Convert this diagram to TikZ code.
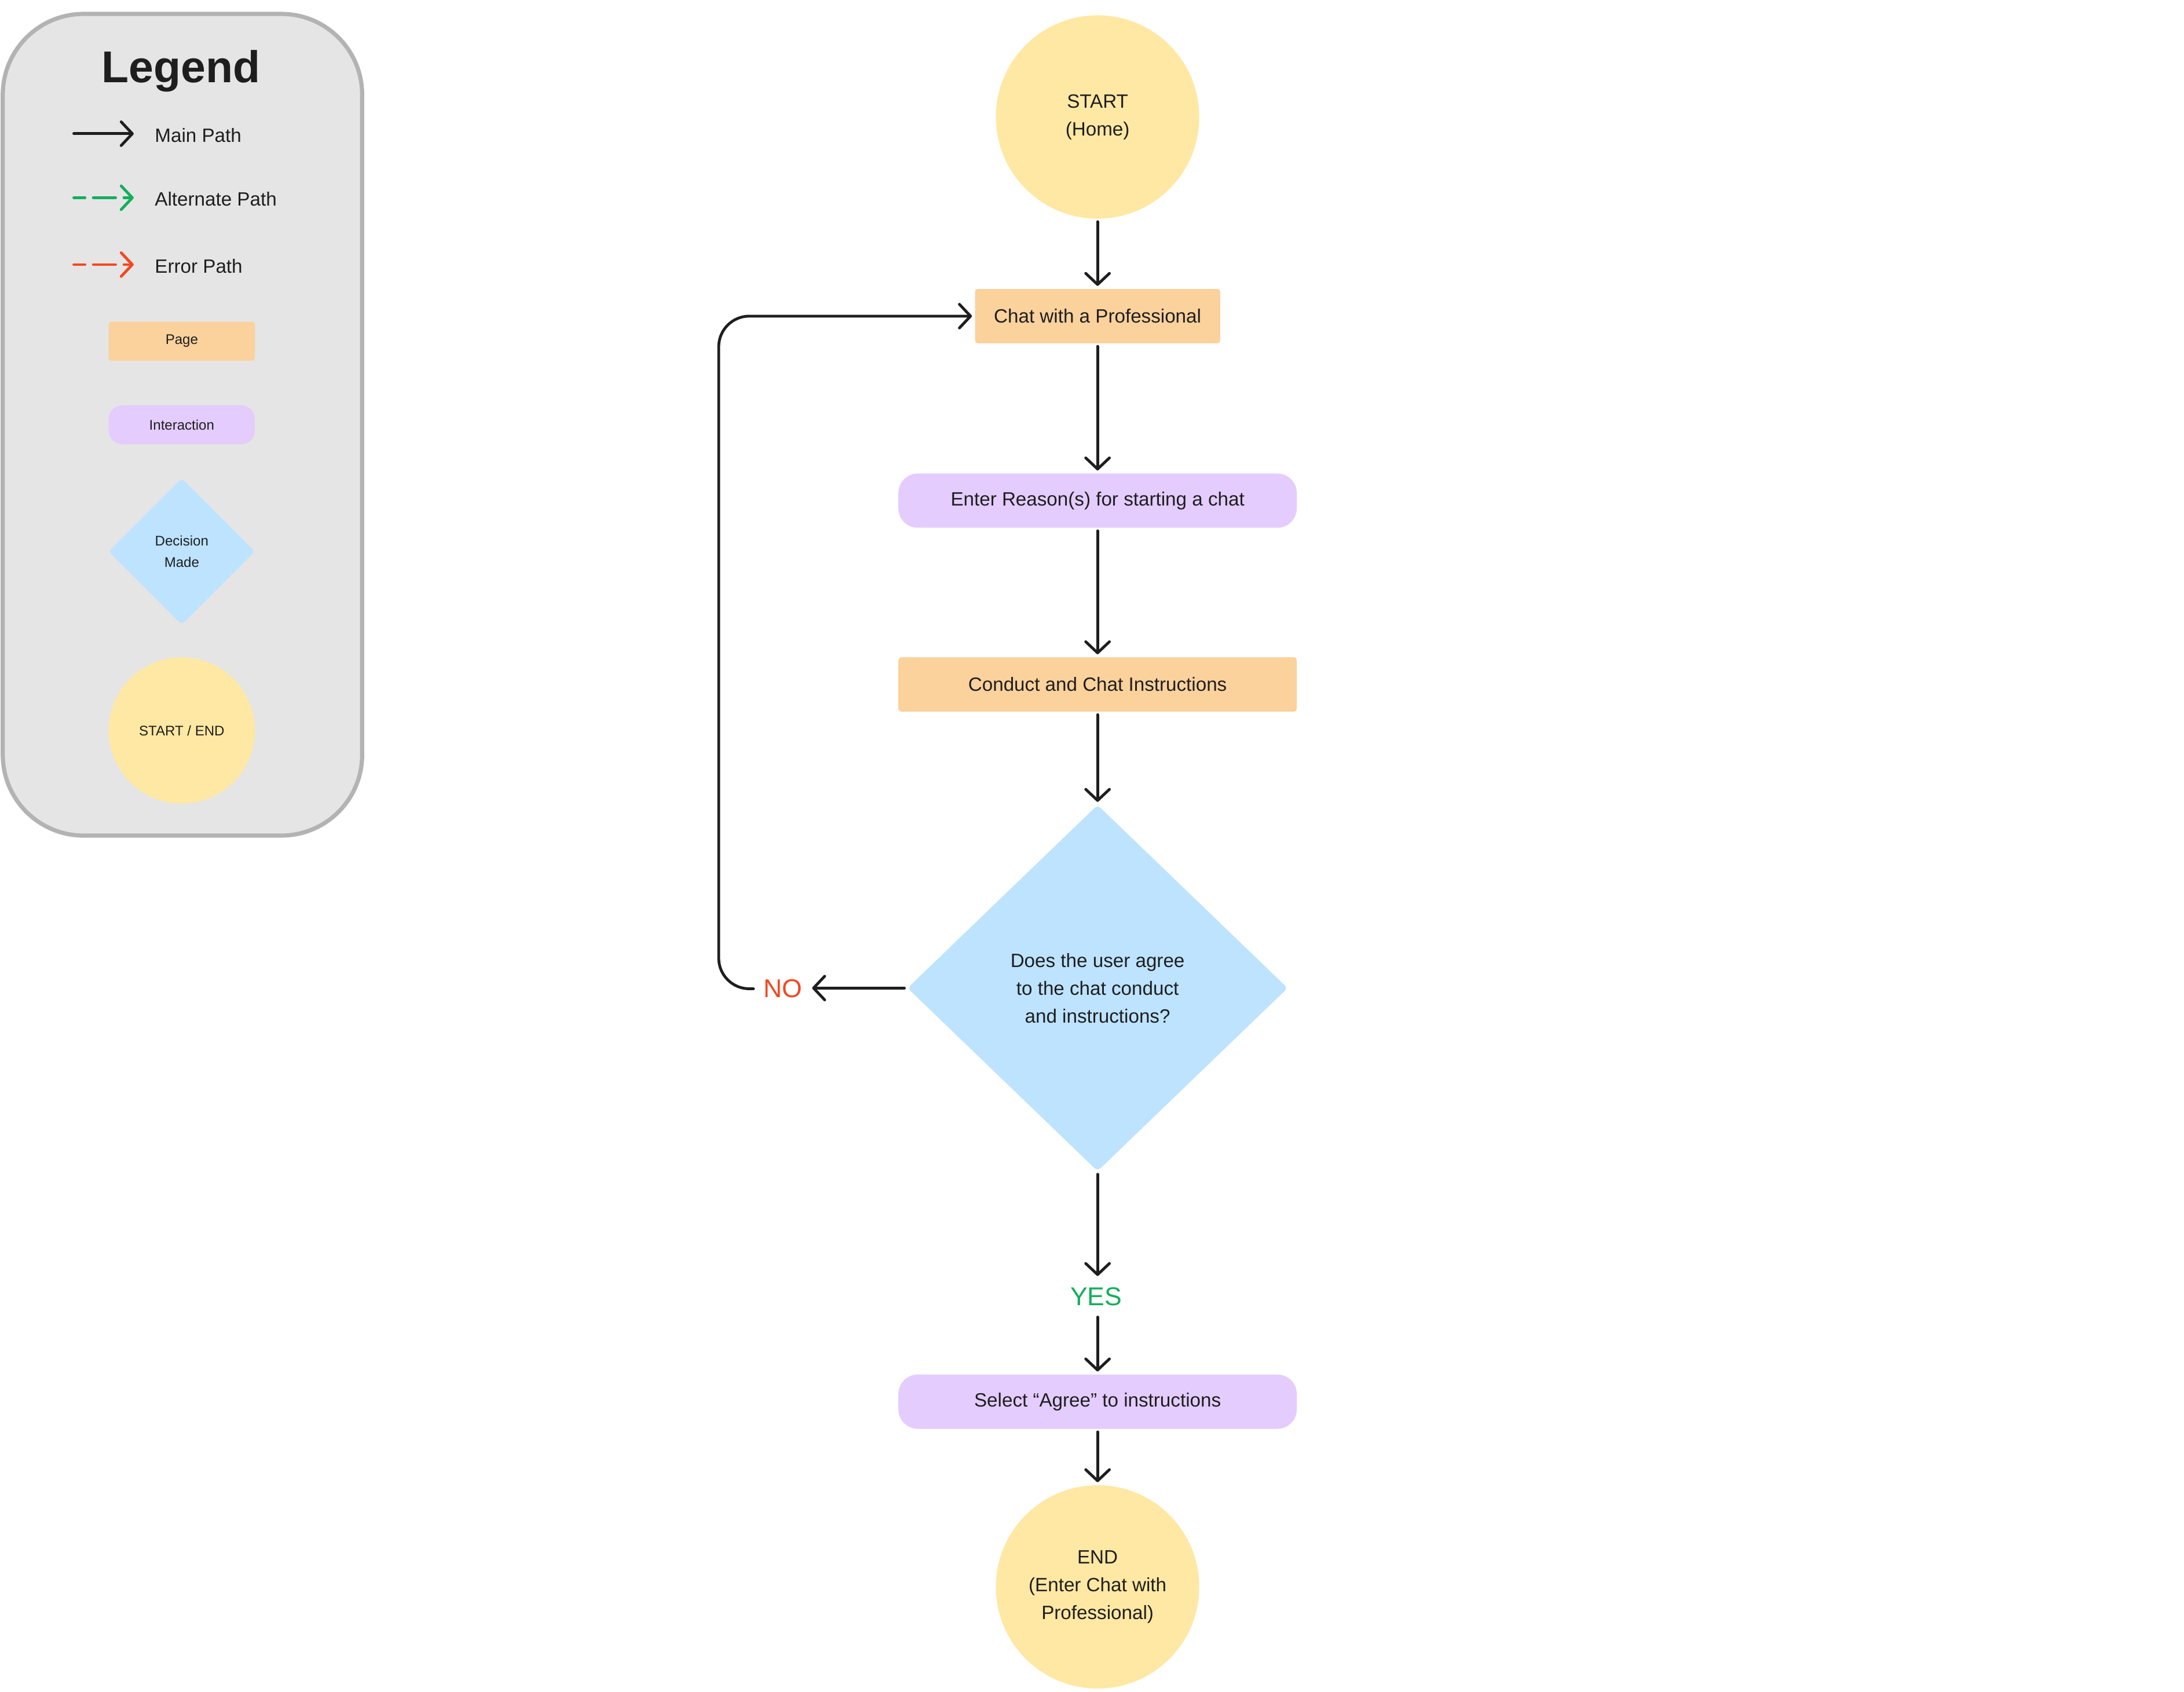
\documentclass[tikz,border=0pt]{standalone}
\usepackage{fontspec}
\setmainfont{Liberation Sans}
\usetikzlibrary{arrows.meta,shapes.geometric}
\definecolor{ink}{HTML}{1E1E1E}
\definecolor{pagec}{HTML}{FBD19C}
\definecolor{interc}{HTML}{E4CCFF}
\definecolor{decc}{HTML}{BDE3FF}
\definecolor{termc}{HTML}{FFE8A3}
\definecolor{legbg}{HTML}{E5E5E5}
\definecolor{legbd}{HTML}{B3B3B3}
\definecolor{yesc}{HTML}{14AE5C}
\definecolor{noc}{HTML}{F24822}
\tikzset{
  txt/.style={font=\fontsize{13.8}{20}\selectfont, text=ink, align=center},
  smalltxt/.style={font=\fontsize{10}{15}\selectfont, text=ink, align=center},
  pagebox/.style={rectangle, fill=pagec, rounded corners=2pt, minimum height=39pt, inner sep=0pt, txt},
  interbox/.style={rectangle, fill=interc, rounded corners=14pt, minimum width=286pt, minimum height=39pt, inner sep=0pt, txt},
  decbox/.style={diamond, fill=decc, rounded corners=3pt, minimum width=273pt, minimum height=263pt, inner sep=0pt, aspect=1.04, txt},
  termbox/.style={circle, fill=termc, minimum size=146pt, inner sep=0pt, txt},
  tip/.style={-{Straight Barb[length=8pt,width=17pt,line cap=round,line join=round]}},
  arr/.style={draw=ink, line width=2pt, line cap=round, tip, shorten <=2pt, shorten >=2pt},
  legarr/.style={line width=2pt, line cap=round, tip},
}
\begin{document}
\begin{tikzpicture}[x=1pt,y=-1pt]
\useasboundingbox (0,0) rectangle (1568,1214.6);
\fill[white] (0,0) rectangle (1568,1214.6);

% Legend
\draw[fill=legbg, draw=legbd, line width=3pt, rounded corners=58pt] (2,10) rectangle (260,600);
\node[font=\fontsize{32}{36}\selectfont\bfseries, text=ink] (legtitle) at (130,51) {Legend};
\coordinate (m1) at (53,96); \coordinate (m2) at (96,96);
\coordinate (a1) at (53,142); \coordinate (a2) at (96,142);
\coordinate (e1) at (53,190); \coordinate (e2) at (96,190);
\draw[legarr, draw=ink] (m1) -- (m2);
\draw[legarr, draw=yesc, dash pattern=on 8pt off 6pt on 16pt off 6pt] (a1) -- (a2);
\draw[legarr, draw=noc, dash pattern=on 8pt off 6pt on 16pt off 6pt] (e1) -- (e2);
\node[txt, anchor=west, inner sep=0pt] (lmain) at (111,97) {Main Path};
\node[txt, anchor=west, inner sep=0pt] (lalt) at (111,143) {Alternate Path};
\node[txt, anchor=west, inner sep=0pt] (lerr) at (111,191) {Error Path};
\node[pagebox, minimum width=105pt, minimum height=28pt, smalltxt] (lpage) at (130.5,245) {Page};
\node[interbox, minimum width=105pt, minimum height=28pt, rounded corners=10pt, smalltxt] (linter) at (130.5,305) {Interaction};
\node[decbox, minimum width=105pt, minimum height=105pt, aspect=1, smalltxt] (ldec) at (130.5,396) {Decision\\Made};
\node[termbox, minimum size=105pt, smalltxt] (lterm) at (130.5,524.5) {START / END};

% Main flow
\node[termbox] (start) at (788,84) {START\\(Home)};
\node[pagebox, minimum width=176pt] (chat) at (788,227) {Chat with a Professional};
\node[interbox] (reason) at (788,359.5) {Enter Reason(s) for starting a chat};
\node[pagebox, minimum width=286pt] (conduct) at (788,491.5) {Conduct and Chat Instructions};
\node[decbox] (dec) at (788,709.5) {Does the user agree\\to the chat conduct\\and instructions?};
\node[font=\fontsize{18.5}{20}\selectfont, text=noc, inner sep=5pt] (no) at (562,710) {NO};
\node[font=\fontsize{18.5}{20}\selectfont, text=yesc, inner sep=6pt] (yes) at (787,931) {YES};
\node[interbox] (agree) at (788,1006.5) {Select “Agree” to instructions};
\node[termbox] (end) at (788,1139.5) {END\\(Enter Chat with\\Professional)};
\coordinate (loop) at (516,500);

\draw[arr] (start) -- (chat);
\draw[arr] (chat) -- (reason);
\draw[arr] (reason) -- (conduct);
\draw[arr] (conduct) -- (dec);
\draw[arr] (dec.south) -- (dec.south |- yes.north);
\draw[arr] (agree.north |- yes.south) -- (agree.north);
\draw[arr] (agree) -- (end);
\draw[arr] (dec.west) -- (dec.west -| no.east);
\draw[arr, rounded corners=22pt] (no.west) -- (no.west -| loop) -- (loop |- chat.west) -- (chat.west);
\end{tikzpicture}
\end{document}
